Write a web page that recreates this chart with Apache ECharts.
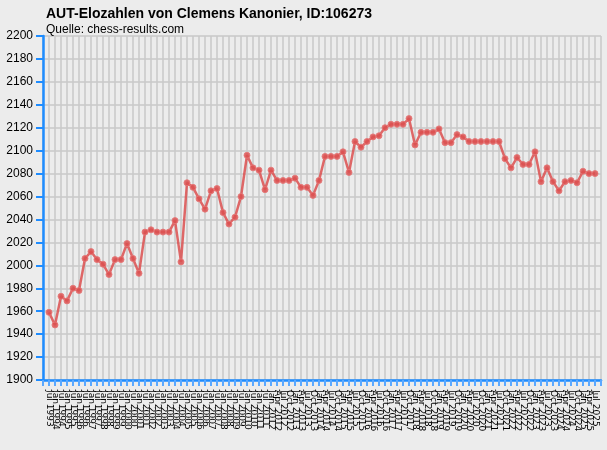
<!DOCTYPE html>
<html>
<head>
<meta charset="utf-8">
<script src="https://cdn.jsdelivr.net/npm/echarts@6/dist/echarts.min.js"></script>
<style>
html,body{margin:0;padding:0;background:#ececec;}
#c{width:607px;height:450px;}
</style>
</head>
<body>
<div id="c"></div>
<script>
// Rating list dates (semi-annual until Jul 2011, then quarterly)
const periods = [
  "Jul 1993","Jan 1994","Jul 1994","Jan 1995","Jul 1995","Jan 1996","Jul 1996","Jan 1997","Jul 1997","Jan 1998",
  "Jul 1998","Jan 1999","Jul 1999","Jan 2000","Jul 2000","Jan 2001","Jul 2001","Jan 2002","Jul 2002","Jan 2003",
  "Jul 2003","Jan 2004","Jul 2004","Jan 2005","Jul 2005","Jan 2006","Jul 2006","Jan 2007","Jul 2007","Jan 2008",
  "Jul 2008","Jan 2009","Jul 2009","Jan 2010","Jul 2010","Jan 2011","Jul 2011",
  "Jan 2012","Apr 2012","Jul 2012","Oct 2012","Jan 2013","Apr 2013","Jul 2013","Oct 2013",
  "Jan 2014","Apr 2014","Jul 2014","Oct 2014","Jan 2015","Apr 2015","Jul 2015","Oct 2015",
  "Jan 2016","Apr 2016","Jul 2016","Oct 2016","Jan 2017","Apr 2017","Jul 2017","Oct 2017",
  "Jan 2018","Apr 2018","Jul 2018","Oct 2018","Jan 2019","Apr 2019","Jul 2019","Oct 2019",
  "Jan 2020","Apr 2020","Jul 2020","Oct 2020","Jan 2021","Apr 2021","Jul 2021","Oct 2021",
  "Jan 2022","Apr 2022","Jul 2022","Oct 2022","Jan 2023","Apr 2023","Jul 2023","Oct 2023",
  "Jan 2024","Apr 2024","Jul 2024","Oct 2024","Jan 2025","Apr 2025","Jul 2025"
];
const ratings = [
  1959,1948,1973,1969,1980,1978,2006,2012,2005,2001,
  1992,2005,2005,2019,2006,1993,2029,2031,2029,2029,
  2029,2039,2003,2072,2068,2058,2049,2065,2067,2046,
  2036,2042,2060,2096,2085,2083,2066,2083,2074,2074,
  2074,2076,2068,2068,2061,2074,2095,2095,2095,2099,
  2081,2108,2103,2108,2112,2113,2120,2123,2123,2123,
  2128,2105,2116,2116,2116,2119,2107,2107,2114,2112,
  2108,2108,2108,2108,2108,2108,2093,2085,2094,2088,
  2088,2099,2073,2085,2073,2065,2073,2074,2072,2082,
  2080,2080
];
const yTicks = {min: 1900, max: 2200, step: 20};

const seriesData = ratings.map((v, i) => [i + 1, v]);
const chart = echarts.init(document.getElementById('c'));
const blue = '#1e8cff';
chart.setOption({
  backgroundColor: '#ececec',
  animation: false,
  title: {
    text: 'AUT-Elozahlen von Clemens Kanonier, ID:106273',
    subtext: 'Quelle: chess-results.com',
    left: 41, top: 2,
    itemGap: 3,
    textStyle: {fontFamily: 'Liberation Sans', fontSize: 14, fontWeight: 'bold', color: '#000'},
    subtextStyle: {fontFamily: 'Liberation Sans', fontSize: 12, color: '#000'}
  },
  grid: {left: 43, right: 6, top: 36, bottom: 70, containLabel: false},
  xAxis: {
    type: 'value',
    min: 0, max: periods.length + 1, interval: 1,
    axisLine: {show: true, onZero: false, lineStyle: {color: blue, width: 2.5}},
    axisTick: {show: true, length: 6, lineStyle: {color: '#5aa8ff', width: 2}},
    splitLine: {show: true, lineStyle: {color: '#c8c8c8', width: 1.5}},
    axisLabel: {
      rotate: -90, margin: 10, fontSize: 9, fontFamily: 'DejaVu Sans', color: '#000',
      showMinLabel: true, showMaxLabel: true,
      formatter: v => periods[v - 1] || ''
    }
  },
  yAxis: {
    type: 'value',
    min: yTicks.min, max: yTicks.max, interval: yTicks.step,
    axisLine: {show: true, lineStyle: {color: blue, width: 2.5}},
    axisTick: {show: true, length: 7, lineStyle: {color: blue, width: 2}},
    splitLine: {show: true, lineStyle: {color: '#c8c8c8', width: 1.5}},
    axisLabel: {margin: 10, fontSize: 12, fontFamily: 'Liberation Sans', color: '#000',
      formatter: v => String(v)}
  },
  series: [{
    type: 'line',
    data: seriesData,
    symbol: 'circle',
    symbolSize: 6,
    lineStyle: {color: 'rgba(220,80,80,0.85)', width: 2.5},
    itemStyle: {color: 'rgba(220,80,80,0.85)', borderColor: 'rgba(230,120,120,0.9)', borderWidth: 1}
  }]
});
</script>
</body>
</html>
